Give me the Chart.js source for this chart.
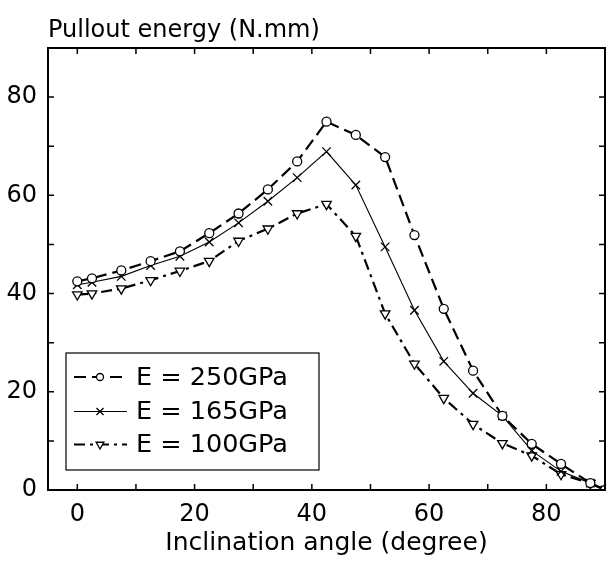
<!DOCTYPE html>
<html><head><meta charset="utf-8">
<script src="https://cdn.jsdelivr.net/npm/chart.js@4/dist/chart.umd.min.js"></script>
<style>html,body{margin:0;padding:0;background:#fff;}#wrap{width:615px;height:563px;}</style>
</head><body><div id="wrap"><canvas id="c" width="615" height="563"></canvas></div>
<script>
const angles = [0, 2.5, 7.5, 12.5, 17.5, 22.5, 27.5, 32.5, 37.5, 42.5, 47.5, 52.5, 57.5, 62.5, 67.5, 72.5, 77.5, 82.5, 87.5, 90];
const e250 = [42.5, 43.1, 44.7, 46.6, 48.6, 52.3, 56.3, 61.2, 66.9, 75.0, 72.3, 67.8, 51.9, 36.9, 24.3, 15.1, 9.4, 5.3, 1.4, 0];
const e165 = [41.8, 42.3, 43.5, 45.7, 47.6, 50.5, 54.4, 58.8, 63.6, 68.9, 62.1, 49.5, 36.6, 26.2, 19.7, 15.1, 8.0, 3.8, 1.4, 0];
const e100 = [39.8, 40.0, 41.0, 42.7, 44.6, 46.6, 50.7, 53.2, 56.3, 58.2, 51.7, 35.9, 25.7, 18.7, 13.4, 9.5, 7.0, 3.2, 1.4, 0];
const seriesLabels = ['E = 250GPa', 'E = 165GPa', 'E = 100GPa'];
const xTicks = [0, 10, 20, 30, 40, 50, 60, 70, 80, 90];
const yTicks = [0, 10, 20, 30, 40, 50, 60, 70, 80, 90];
const yTitle = 'Pullout energy (N.mm)';
const xTitle = 'Inclination angle (degree)';

const FONT = "'DejaVu Sans', 'Liberation Sans', Arial, sans-serif";
const toPts = arr => angles.map((x, i) => ({x: x, y: arr[i]}));

const datasets = [
  {label: seriesLabels[0], data: toPts(e250), borderColor: '#000', borderWidth: 2.2, borderDash: [12, 6],
   pointStyle: 'circle', pointRadius: 4.5, pointBorderWidth: 1.3, pointBackgroundColor: '#fff', pointBorderColor: '#000'},
  {label: seriesLabels[1], data: toPts(e165), borderColor: '#000', borderWidth: 1.1, borderDash: [],
   pointStyle: 'crossRot', pointRadius: 6, pointBorderWidth: 1.3, pointBackgroundColor: '#fff', pointBorderColor: '#000'},
  {label: seriesLabels[2], data: toPts(e100), borderColor: '#000', borderWidth: 2.2, borderDash: [11, 5, 3, 5],
   pointStyle: 'triangle', pointRotation: 180, pointRadius: 5.5, pointBorderWidth: 1.3, pointBackgroundColor: '#fff', pointBorderColor: '#000'}
];

function drawMarker(ctx, ds, x, y) {
  ctx.save();
  ctx.setLineDash([]);
  ctx.lineWidth = ds.pointBorderWidth;
  ctx.strokeStyle = '#000';
  ctx.fillStyle = '#fff';
  const r = ds.pointRadius;
  ctx.beginPath();
  if (ds.pointStyle === 'circle') {
    ctx.arc(x, y, r, 0, Math.PI * 2);
    ctx.fill(); ctx.stroke();
  } else if (ds.pointStyle === 'crossRot') {
    const d = r * Math.SQRT1_2;
    ctx.moveTo(x - d, y - d); ctx.lineTo(x + d, y + d);
    ctx.moveTo(x + d, y - d); ctx.lineTo(x - d, y + d);
    ctx.stroke();
  } else {
    const s = r * 0.866;
    ctx.moveTo(x - s, y - r * 0.5); ctx.lineTo(x + s, y - r * 0.5); ctx.lineTo(x, y + r);
    ctx.closePath(); ctx.fill(); ctx.stroke();
  }
  ctx.restore();
}

const decor = {
  id: 'decor',
  afterDraw(chart) {
    const {ctx, chartArea: a, scales} = chart;
    ctx.save();
    ctx.strokeStyle = '#000';
    ctx.lineWidth = 2;
    ctx.setLineDash([]);
    ctx.strokeRect(a.left, a.top, a.right - a.left, a.bottom - a.top);
    ctx.lineWidth = 1.5;
    const tl = 6;
    ctx.beginPath();
    xTicks.forEach(v => {
      const px = scales.x.getPixelForValue(v);
      ctx.moveTo(px, a.bottom); ctx.lineTo(px, a.bottom - tl);
      ctx.moveTo(px, a.top); ctx.lineTo(px, a.top + tl);
    });
    yTicks.forEach(v => {
      const py = scales.y.getPixelForValue(v);
      ctx.moveTo(a.left, py); ctx.lineTo(a.left + tl, py);
      ctx.moveTo(a.right, py); ctx.lineTo(a.right - tl, py);
    });
    ctx.stroke();
    ctx.fillStyle = '#000';
    ctx.font = '24px ' + FONT;
    ctx.textAlign = 'left';
    ctx.textBaseline = 'alphabetic';
    ctx.fillText(yTitle, a.left, 37);
    const bx = 66, by = 353, bw = 253, bh = 117;
    ctx.fillStyle = '#fff';
    ctx.fillRect(bx, by, bw, bh);
    ctx.lineWidth = 1.2;
    ctx.strokeRect(bx, by, bw, bh);
    const rowsY = [377, 411.5, 444.5];
    chart.data.datasets.forEach((ds, i) => {
      const y = rowsY[i];
      ctx.save();
      ctx.strokeStyle = '#000';
      ctx.lineWidth = ds.borderWidth;
      ctx.setLineDash(ds.borderDash || []);
      ctx.beginPath();
      ctx.moveTo(74, y); ctx.lineTo(127, y);
      ctx.stroke();
      ctx.restore();
      drawMarker(ctx, Object.assign({}, ds, {pointRadius: ds.pointRadius - 1}), 100, y);
      ctx.fillStyle = '#000';
      ctx.font = '25.5px ' + FONT;
      ctx.textAlign = 'left';
      ctx.textBaseline = 'middle';
      ctx.fillText(ds.label, 136, y + 1);
    });
    ctx.restore();
  }
};

new Chart(document.getElementById('c'), {
  type: 'line',
  data: {datasets: datasets},
  options: {
    responsive: false,
    animation: false,
    devicePixelRatio: 1,
    layout: {padding: {top: 48, right: 2, left: 0, bottom: 0}},
    elements: {line: {tension: 0, fill: false}},
    plugins: {legend: {display: false}, tooltip: {enabled: false}, title: {display: false}},
    scales: {
      x: {
        type: 'linear', min: -5, max: 90,
        afterBuildTicks: s => { s.ticks = xTicks.map(v => ({value: v})); },
        afterFit: s => { s.height = 73; },
        grid: {display: false, drawTicks: false},
        border: {display: false},
        ticks: {autoSkip: false, maxRotation: 0, padding: 10, color: '#000',
                font: {family: FONT, size: 24},
                callback: v => (v % 20 === 0 ? String(v) : '')},
        title: {display: true, text: xTitle, color: '#000', font: {family: FONT, size: 25},
                padding: {top: 0, bottom: 5}}
      },
      y: {
        type: 'linear', min: 0, max: 90,
        afterBuildTicks: s => { s.ticks = yTicks.map(v => ({value: v})); },
        afterFit: s => { s.width = 48; },
        grid: {display: false, drawTicks: false},
        border: {display: false},
        ticks: {autoSkip: false, padding: 11, color: '#000',
                font: {family: FONT, size: 24},
                callback: v => (v % 20 === 0 ? String(v) : '')}
      }
    }
  },
  plugins: [decor]
});
</script>
</body></html>
